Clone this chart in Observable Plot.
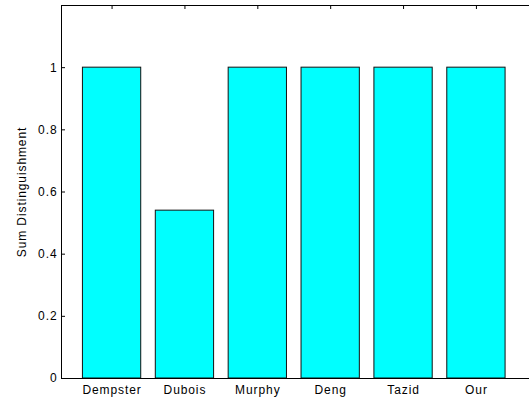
<!DOCTYPE html>
<html>
<head>
<meta charset="utf-8">
<script src="https://cdn.jsdelivr.net/npm/d3@7"></script>
<script src="https://cdn.jsdelivr.net/npm/@observablehq/plot@0.6"></script>
<style>
  html, body { margin: 0; padding: 0; background: #fff; overflow: hidden; }
  #chart svg { display: block; }
</style>
</head>
<body>
<div id="chart"></div>
<script>
// Sum of distinguishment per combination method
const methods = ["Dempster", "Dubois", "Murphy", "Deng", "Tazid", "Our"];
const sumDistinguishment = [1, 0.54, 1, 1, 1, 1];
const yTicks = [0, 0.2, 0.4, 0.6, 0.8, 1];

const W = 529, H = 401;
const barWidth = 0.8;
const xDomain = [0.306, 7];
const yDomain = [0, 1.2];
const xRange = [61, 548.8];
const yRange = [378, 5];

const rows = methods.map((m, i) => ({method: m, pos: i + 1, value: sumDistinguishment[i]}));
const positions = rows.map(d => d.pos);

// pixel sizes expressed in data units
const xPerPx = (xDomain[1] - xDomain[0]) / (xRange[1] - xRange[0]);
const yPerPx = (yDomain[1] - yDomain[0]) / (yRange[0] - yRange[1]);
const tickLen = 4;
// the axes box runs past the right edge of the figure
const xVisibleEnd = xDomain[0] + (W - xRange[0]) * xPerPx;

const font = "'Liberation Sans', Arial, Helvetica, sans-serif";

const chart = Plot.plot({
  width: W,
  height: H,
  marginLeft: 61,
  marginRight: 0,
  marginTop: 5,
  marginBottom: 23,
  style: {fontFamily: font, fontSize: "12px", letterSpacing: "0.9px", color: "#000", background: "#fff"},
  x: {type: "linear", domain: xDomain, range: xRange},
  y: {domain: yDomain, range: yRange},
  marks: [
    Plot.rectY(rows, {
      x1: d => d.pos - barWidth / 2,
      x2: d => d.pos + barWidth / 2,
      y: "value",
      fill: "#00ffff",
      stroke: "#111",
      strokeWidth: 1
    }),
    // axes box (left, top, bottom)
    Plot.ruleY([yDomain[0], yDomain[1]], {x1: xDomain[0], x2: xVisibleEnd, stroke: "#000", strokeWidth: 1}),
    Plot.ruleX([xDomain[0]], {y1: yDomain[0], y2: yDomain[1], stroke: "#000", strokeWidth: 1}),
    // inward ticks
    Plot.ruleY(yTicks, {x1: xDomain[0], x2: xDomain[0] + tickLen * xPerPx, stroke: "#000"}),
    Plot.ruleX(positions, {y1: yDomain[1], y2: yDomain[1] - tickLen * yPerPx, stroke: "#000"}),
    Plot.axisX({
      ticks: positions,
      tickFormat: p => methods[p - 1],
      tickSize: 0,
      tickPadding: 7,
      label: null
    }),
    Plot.axisY({
      ticks: yTicks,
      tickFormat: d => String(+d.toFixed(1)),
      tickSize: 0,
      tickPadding: 4,
      label: "Sum Distinguishment",
      labelAnchor: "center",
      labelArrow: "none",
      labelOffset: 44
    })
  ]
});

document.getElementById("chart").append(chart);
</script>
</body>
</html>
